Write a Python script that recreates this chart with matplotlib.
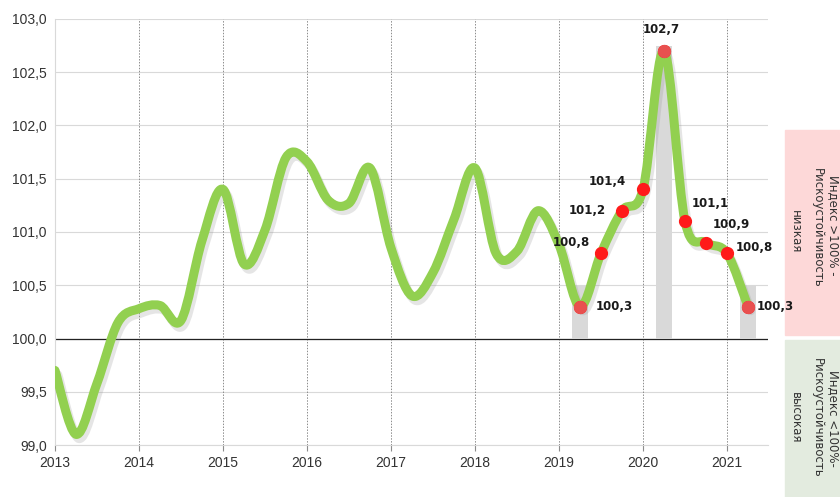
import numpy as np
import matplotlib
matplotlib.use("Agg")
from matplotlib import pyplot as plt
from matplotlib.path import Path
from matplotlib.patches import PathPatch
import matplotlib.patheffects as pe

# квартальные значения индекса, 2013 - 2021
quarters = [2013.00, 2013.25, 2013.50, 2013.75,
            2014.00, 2014.25, 2014.50, 2014.75,
            2015.00, 2015.25, 2015.50, 2015.75,
            2016.00, 2016.25, 2016.50, 2016.75,
            2017.00, 2017.25, 2017.50, 2017.75,
            2018.00, 2018.25, 2018.50, 2018.75,
            2019.00, 2019.25, 2019.50, 2019.75,
            2020.00, 2020.25, 2020.50, 2020.75,
            2021.00, 2021.25]
index_values = [99.70, 99.10, 99.58, 100.15,
                100.28, 100.31, 100.17, 100.92,
                101.40, 100.70, 101.02, 101.70,
                101.66, 101.30, 101.27, 101.60,
                100.85, 100.40, 100.62, 101.12,
                101.60, 100.80, 100.82, 101.20,
                100.88, 100.30, 100.80, 101.20,
                101.40, 102.70, 101.10, 100.90,
                100.80, 100.30]

# подписанные точки
label_x = [2019.25, 2019.50, 2019.75, 2020.00, 2020.25, 2020.50, 2020.75, 2021.00, 2021.25]
label_y = [100.3, 100.8, 101.2, 101.4, 102.7, 101.1, 100.9, 100.8, 100.3]
label_txt = ["100,3", "100,8", "101,2", "101,4", "102,7", "101,1", "100,9", "100,8", "100,3"]

# серые столбики
bar_x = [2019.25, 2020.25, 2021.25]
bar_top = [100.5, 102.75, 100.5]

years = list(range(2013, 2022))
yticks = [99.0, 99.5, 100.0, 100.5, 101.0, 101.5, 102.0, 102.5, 103.0]


def smooth_path(x, y):
    # сглаженная линия как в Excel (кривые Безье)
    x = np.asarray(x, float)
    y = np.asarray(y, float)
    n = len(x)
    verts = [(x[0], y[0])]
    codes = [Path.MOVETO]
    for i in range(n - 1):
        i0 = max(i - 1, 0)
        i3 = min(i + 2, n - 1)
        c1 = (x[i] + (x[i + 1] - x[i0]) / 6, y[i] + (y[i + 1] - y[i0]) / 6)
        c2 = (x[i + 1] - (x[i3] - x[i]) / 6, y[i + 1] - (y[i3] - y[i]) / 6)
        verts += [c1, c2, (x[i + 1], y[i + 1])]
        codes += [Path.CURVE4] * 3
    return Path(verts, codes)


plt.rcParams['font.family'] = ['Liberation Sans Narrow', 'Liberation Sans', 'DejaVu Sans']

fig = plt.figure(figsize=(8.4, 4.97), dpi=100)
ax = fig.add_axes([0.0655, 0.1046, 0.849, 0.8572])
ax.set_zorder(2)
ax.patch.set_alpha(0)

ax.set_xlim(2013, 2021.49)
ax.set_ylim(99, 103)

for yy in yticks:
    ax.axhline(yy, color='#d9d9d9', lw=0.8, zorder=0)
for xx in years[1:]:
    ax.axvline(xx, color='#8c8c8c', lw=0.7, ls=(0, (1.5, 1.5)), zorder=0)
ax.axhline(100, color='#222222', lw=0.9, zorder=1)

ax.bar(bar_x, np.array(bar_top) - 100, bottom=100, width=0.2, color='#d9d9d9', zorder=2)

patch = PathPatch(smooth_path(quarters, index_values), fill=False, edgecolor='#92d050',
                  lw=6.5, capstyle='round', joinstyle='round', zorder=3)
patch.set_path_effects([pe.SimpleLineShadow(offset=(2, -3), shadow_color='#999999', alpha=0.25),
                        pe.Normal()])
ax.add_patch(patch)

ax.plot(label_x, label_y, 'o', color='#ff1a1a', markersize=8.5, zorder=4)
for k in [0, 4, 8]:
    ax.plot(label_x[k], label_y[k], 'o', color='#e8504f', markersize=8.5, zorder=5)

offsets = [(11, 0, 'left', 'center'), (-8, 8, 'right', 'center'), (-12, 0, 'right', 'center'),
           (-12, 6, 'right', 'center'), (-2, 11, 'center', 'bottom'), (5, 13, 'left', 'center'),
           (5, 13, 'left', 'center'), (6, 4, 'left', 'center'), (6, 0, 'left', 'center')]
for xx, yy, t, (dx, dy, ha, va) in zip(label_x, label_y, label_txt, offsets):
    ax.annotate(t, (xx, yy), xytext=(dx, dy), textcoords='offset points', ha=ha, va=va,
                fontsize=8.5, fontweight='bold', family=['DejaVu Sans'], color='#1a1a1a', zorder=6)

ax.set_xticks(years)
ax.set_xticklabels([str(v) for v in years])
ax.set_yticks(yticks)
ax.set_yticklabels([("%.1f" % v).replace('.', ',') for v in yticks])
ax.tick_params(axis='x', length=4, color='#8c8c8c', labelsize=10, labelcolor='#333333', pad=4)
ax.tick_params(axis='y', length=0, labelsize=10, labelcolor='#333333', pad=6)
for s in ['top', 'right']:
    ax.spines[s].set_visible(False)
ax.spines['left'].set_color('#d9d9d9')
ax.spines['bottom'].set_color('#d9d9d9')

# поясняющие плашки справа
fig.patches.append(plt.Rectangle((785 / 840, 1 - 335 / 497), 55 / 840, 205 / 497,
                                 transform=fig.transFigure, color='#fdd8d8', zorder=0))
fig.patches.append(plt.Rectangle((785 / 840, 0), 55 / 840, 157 / 497,
                                 transform=fig.transFigure, color='#e3ebdf', zorder=0))

box_font = ['DejaVu Sans']
fig.text(833 / 840, 1 - 225 / 497, "Индекс >100% -", rotation=270, ha='center', va='center',
         fontsize=8.5, family=box_font, color='#333333')
fig.text(817 / 840, 1 - 228 / 497, "Рискоустойчивость", rotation=270, ha='center', va='center',
         fontsize=8.5, family=box_font, color='#333333')
fig.text(795 / 840, 1 - 232 / 497, "низкая", rotation=270, ha='center', va='center',
         fontsize=8.5, family=box_font, color='#333333')

fig.text(833 / 840, 1 - 418 / 497, "Индекс <100%-", rotation=270, ha='center', va='center',
         fontsize=8.5, family=box_font, color='#333333')
fig.text(817 / 840, 1 - 418 / 497, "Рискоустойчивость", rotation=270, ha='center', va='center',
         fontsize=8.5, family=box_font, color='#333333')
fig.text(795 / 840, 1 - 418 / 497, "высокая", rotation=270, ha='center', va='center',
         fontsize=8.5, family=box_font, color='#333333')

fig.savefig("out.png", dpi=100)
